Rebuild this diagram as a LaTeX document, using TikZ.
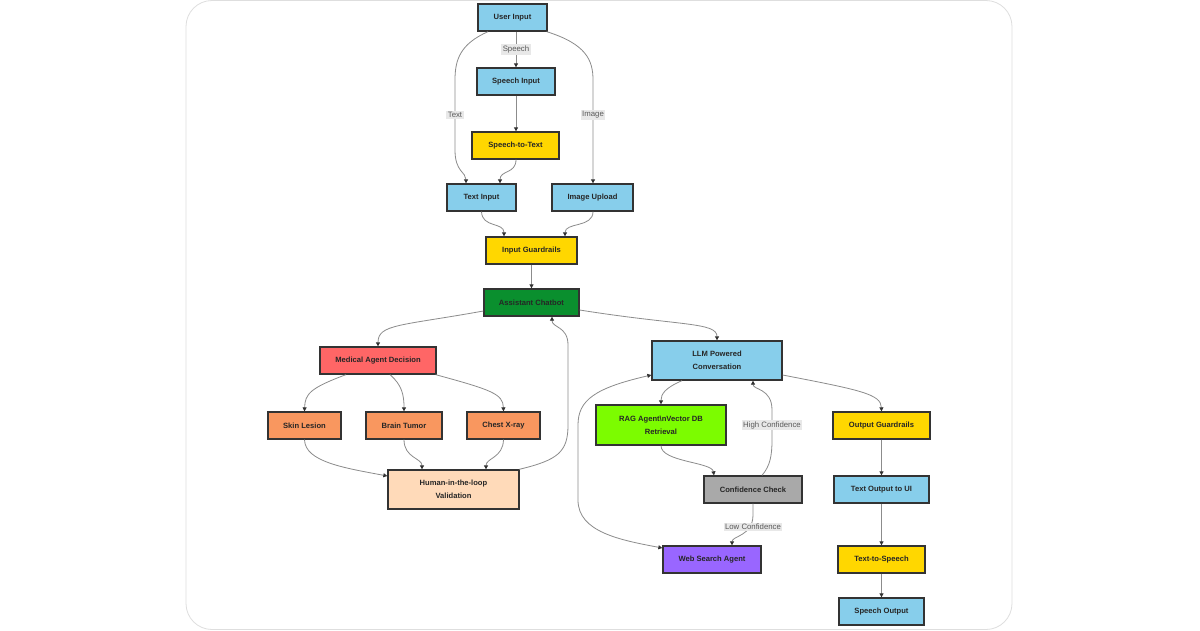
\documentclass[tikz,border=0pt]{standalone}
\usepackage{fontspec}
\setmainfont{Liberation Sans}
\usetikzlibrary{arrows.meta,calc}
\definecolor{sky}{HTML}{87CEEB}
\definecolor{goldc}{HTML}{FFD700}
\definecolor{greenc}{HTML}{0A8F2E}
\definecolor{redc}{HTML}{FF6666}
\definecolor{orangec}{HTML}{F9975F}
\definecolor{peach}{HTML}{FFDAB9}
\definecolor{lawn}{HTML}{7CFC00}
\definecolor{greyc}{HTML}{A9A9A9}
\definecolor{purplec}{HTML}{9966FF}
\definecolor{edgec}{HTML}{8C8C8C}
\definecolor{bordc}{HTML}{333333}
\definecolor{lblbg}{HTML}{E8E8E8}
\tikzset{
  box/.style={draw=bordc, line width=1.3pt, inner sep=0pt, minimum height=27pt, align=center,
    font=\bfseries\fontsize{7.6}{13}\selectfont, text=black!85},
  conn/.style={draw=edgec, line width=0.8pt, -{Triangle[length=4pt,width=4pt,color=bordc]}},
  bconn/.style={draw=edgec, line width=0.8pt, {Triangle[length=4pt,width=4pt,color=bordc]}-{Triangle[length=4pt,width=4pt,color=bordc]}},
  lbl/.style={fill=lblbg, inner sep=1.5pt, font=\fontsize{7.8}{9}\selectfont, text=black!65}
}
\begin{document}
\begin{tikzpicture}[x=1pt,y=-1pt]
\useasboundingbox (0,0) rectangle (1200,630);
\fill[white] (0,0) rectangle (1200,630);
\draw[black!13, line width=0.8pt, rounded corners=26pt] (186,0.5) rectangle (1012,629.5);

% nodes
\node[box, fill=sky, minimum width=69pt] (ui) at (512.5,17.5) {User Input};
\node[box, fill=sky, minimum width=78pt] (si) at (516,81.5) {Speech Input};
\node[box, fill=goldc, minimum width=87pt] (stt) at (515.5,145.5) {Speech-to-Text};
\node[box, fill=sky, minimum width=69pt] (ti) at (481.5,197.5) {Text Input};
\node[box, fill=sky, minimum width=81pt] (iu) at (592.5,197.5) {Image Upload};
\node[box, fill=goldc, minimum width=91pt] (ig) at (531.5,250.5) {Input Guardrails};
\node[box, fill=greenc, minimum width=95pt] (cb) at (531.5,302.5) {Assistant Chatbot};
\node[box, fill=redc, minimum width=116pt] (med) at (378,360.5) {Medical Agent Decision};
\node[box, fill=orangec, minimum width=73pt] (skin) at (304.5,425.5) {Skin Lesion};
\node[box, fill=orangec, minimum width=76pt] (brain) at (404,425.5) {Brain Tumor};
\node[box, fill=orangec, minimum width=73pt] (chest) at (503.5,425.5) {Chest X-ray};
\node[box, fill=peach, minimum width=131pt, minimum height=39pt] (hum) at (453.5,489.5) {Human-in-the-loop\\Validation};
\node[box, fill=sky, minimum width=130pt, minimum height=39pt] (llm) at (717,360.5) {LLM Powered\\Conversation};
\node[box, fill=lawn, minimum width=130pt, minimum height=40pt] (rag) at (661,425) {RAG Agent\textbackslash nVector DB\\Retrieval};
\node[box, fill=goldc, minimum width=97pt] (og) at (881.5,425.5) {Output Guardrails};
\node[box, fill=greyc, minimum width=98pt] (cc) at (753,489.5) {Confidence Check};
\node[box, fill=sky, minimum width=95pt] (tou) at (881.5,489.5) {Text Output to UI};
\node[box, fill=purplec, minimum width=98pt] (web) at (712,559.5) {Web Search Agent};
\node[box, fill=goldc, minimum width=87pt] (tts) at (881.5,559.5) {Text-to-Speech};
\node[box, fill=sky, minimum width=85pt] (so) at (881.5,611.5) {Speech Output};

% connectors
\draw[conn] ([xshift=3.5pt]ui.south) -- node[lbl]{Speech} (si.north);
\draw[conn] ([xshift=-24.5pt]ui.south) .. controls (460,44) and (455,60) .. (455,80)
   -- node[lbl]{Text} (455,150) .. controls (455,172) and (466,172) .. ([xshift=-15.5pt]ti.north);
\draw[conn] ([xshift=-1pt]ui.south east) .. controls (586,44) and (593,60) .. (593,80)
   -- node[lbl]{Image} (593,150) -- ([xshift=0.5pt]iu.north);
\draw[conn] (si.south) -- ([xshift=0.5pt]stt.north);
\draw[conn] ([xshift=0.5pt]stt.south) .. controls (516,174) and (500,170) .. ([xshift=18.5pt]ti.north);
\draw[conn] (ti.south) .. controls (482,228) and (504,222) .. ([xshift=-27.5pt]ig.north);
\draw[conn] ([xshift=0.5pt]iu.south) .. controls (593,228) and (565,222) .. ([xshift=33.5pt]ig.north);
\draw[conn] (ig.south) -- (cb.north);
\draw[conn] ([yshift=-8.5pt]cb.west) .. controls (400,326) and (378,324) .. (med.north);
\draw[conn] ([yshift=-7.5pt]cb.east) .. controls (680,326) and (717,322) .. (llm.north);
\draw[conn] ([xshift=-32pt]med.south) .. controls (310,388) and (305,394) .. (skin.north);
\draw[conn] ([xshift=12pt]med.south) .. controls (402,385) and (404,395) .. (brain.north);
\draw[conn] ([xshift=-1pt]med.south east) .. controls (492,390) and (503,394) .. (chest.north);
\draw[conn] (skin.south) .. controls (305,462) and (345,468) .. ([yshift=13.5pt]hum.west);
\draw[conn] (brain.south) .. controls (404,458) and (422,458) .. ([xshift=-31.5pt]hum.north);
\draw[conn] (chest.south) .. controls (503,458) and (486,458) .. ([xshift=32.5pt]hum.north);
\draw[conn] ([xshift=-0.5pt]hum.north east) .. controls (558,460) and (568,452) .. (568,425)
   -- (568,345) .. controls (568,326) and (552,328) .. ([xshift=20.5pt]cb.south);
\draw[conn] ([xshift=-35pt]llm.south) .. controls (665,388) and (661,394) .. (rag.north);
\draw[conn] (rag.south) .. controls (661,462) and (712,462) .. ([xshift=-39pt]cc.north);
\draw[conn] ([xshift=9pt]cc.north) .. controls (770,466) and (772,456) .. (772,440)
   -- node[lbl]{High Confidence} (772,410) .. controls (772,388) and (753,390) .. ([xshift=36pt]llm.south);
\draw[conn] (cc.south) -- (753,515) .. controls (753,536) and (732,536) .. ([xshift=20pt]web.north);
\node[lbl] (lowlbl) at (753,527) {Low Confidence};
\draw[bconn] ([yshift=-14.5pt]llm.west) .. controls (595,388) and (578,400) .. (578,425)
   -- (578,500) .. controls (578,532) and (620,540) .. ([yshift=11.5pt]web.west);
\draw[conn] ([yshift=-14.5pt]llm.east) .. controls (860,390) and (881,394) .. (og.north);
\draw[conn] (og.south) -- (tou.north);
\draw[conn] (tou.south) -- (tts.north);
\draw[conn] (tts.south) -- (so.north);
\end{tikzpicture}
\end{document}
